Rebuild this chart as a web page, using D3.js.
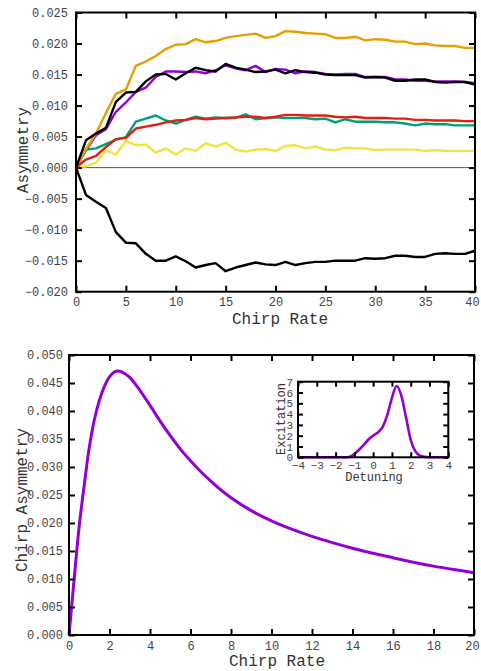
<!DOCTYPE html>
<html>
<head>
<meta charset="utf-8">
<script src="https://cdn.jsdelivr.net/npm/d3@7"></script>
<style>
	body { margin: 0; background: #fff; }
	svg { display: block; }
	text { font-family: "Liberation Mono", "DejaVu Sans Mono", monospace; }
</style>
</head>
<body>
<svg id="chart" width="481" height="671"></svg>
<script>
// top panel: asymmetry vs chirp rate, one point per integer rate
const chirpRates = [0, 1, 2, 3, 4, 5, 6, 7, 8, 9, 10, 11, 12, 13, 14, 15, 16, 17, 18, 19, 20,
	21, 22, 23, 24, 25, 26, 27, 28, 29, 30, 31, 32, 33, 34, 35, 36, 37, 38, 39, 40];

const purpleSeries = [0, 0.0028, 0.0052, 0.0062, 0.0090, 0.0105, 0.0122, 0.0129, 0.0146, 0.0155, 0.0155,
	0.0154, 0.0155, 0.0152, 0.0157, 0.0165, 0.0160, 0.0157, 0.0164, 0.0154, 0.0159,
	0.0158, 0.0152, 0.0155, 0.0154, 0.0151, 0.0150, 0.0151, 0.0151, 0.0146, 0.0146,
	0.0146, 0.0142, 0.0142, 0.0140, 0.0140, 0.0139, 0.0139, 0.0139, 0.0138, 0.0136];
const greenSeries = [0, 0.0029, 0.0031, 0.0038, 0.0045, 0.0049, 0.0074, 0.0079, 0.0084, 0.0076, 0.0071,
	0.0077, 0.0082, 0.0079, 0.0081, 0.0080, 0.0080, 0.0086, 0.0078, 0.0080, 0.0081,
	0.0080, 0.0080, 0.0080, 0.0078, 0.0079, 0.0073, 0.0078, 0.0074, 0.0074, 0.0074,
	0.0073, 0.0073, 0.0071, 0.0068, 0.0071, 0.0070, 0.0070, 0.0068, 0.0068, 0.0068];
const orangeSeries = [0, 0.0030, 0.0055, 0.0088, 0.0119, 0.0126, 0.0164, 0.0171, 0.0180, 0.0191, 0.0198,
	0.0199, 0.0207, 0.0202, 0.0204, 0.0209, 0.0212, 0.0214, 0.0216, 0.0209, 0.0212,
	0.0220, 0.0219, 0.0217, 0.0216, 0.0215, 0.0209, 0.0209, 0.0211, 0.0205, 0.0207,
	0.0206, 0.0203, 0.0203, 0.0199, 0.0200, 0.0197, 0.0196, 0.0196, 0.0193, 0.0193];
const yellowSeries = [0, 0.0002, 0.0008, 0.0028, 0.0021, 0.0043, 0.0036, 0.0037, 0.0024, 0.0031, 0.0021,
	0.0031, 0.0027, 0.0039, 0.0034, 0.0040, 0.0029, 0.0026, 0.0029, 0.0030, 0.0027,
	0.0035, 0.0036, 0.0031, 0.0034, 0.0029, 0.0028, 0.0032, 0.0031, 0.0031, 0.0028,
	0.0029, 0.0029, 0.0029, 0.0029, 0.0027, 0.0028, 0.0027, 0.0027, 0.0027, 0.0027];
const redSeries = [0, 0.0013, 0.0019, 0.0033, 0.0046, 0.0048, 0.0063, 0.0066, 0.0069, 0.0073, 0.0076,
	0.0077, 0.0080, 0.0078, 0.0079, 0.0080, 0.0081, 0.0082, 0.0082, 0.0080, 0.0082,
	0.0085, 0.0085, 0.0084, 0.0084, 0.0084, 0.0082, 0.0081, 0.0082, 0.0080, 0.0080,
	0.0080, 0.0079, 0.0079, 0.0077, 0.0077, 0.0076, 0.0076, 0.0076, 0.0075, 0.0075];
const blackUpSeries = [0, 0.0044, 0.0055, 0.0064, 0.0106, 0.0121, 0.0122, 0.0139, 0.0150, 0.0151, 0.0142,
	0.0152, 0.0161, 0.0157, 0.0155, 0.0167, 0.0161, 0.0158, 0.0154, 0.0155, 0.0158,
	0.0152, 0.0157, 0.0154, 0.0153, 0.0150, 0.0149, 0.0149, 0.0149, 0.0145, 0.0146,
	0.0145, 0.0140, 0.0140, 0.0142, 0.0142, 0.0138, 0.0137, 0.0138, 0.0138, 0.0134];
const blackDownSeries = [0, -0.0044, -0.0055, -0.0065, -0.0104, -0.0121, -0.0122, -0.0139, -0.0150, -0.0150, -0.0143,
	-0.0151, -0.0161, -0.0157, -0.0154, -0.0167, -0.0161, -0.0157, -0.0153, -0.0156, -0.0157,
	-0.0152, -0.0157, -0.0154, -0.0152, -0.0152, -0.0150, -0.0150, -0.0150, -0.0146, -0.0147,
	-0.0146, -0.0142, -0.0142, -0.0144, -0.0144, -0.0139, -0.0138, -0.0139, -0.0139, -0.0134];

const topXTicks = [0, 5, 10, 15, 20, 25, 30, 35, 40];
const topYTicks = [-0.02, -0.015, -0.01, -0.005, 0, 0.005, 0.01, 0.015, 0.02, 0.025];

// bottom panel: chirp asymmetry curve
const curveRates = [0, 0.25, 0.5, 0.75, 1, 1.25, 1.5, 1.75, 2, 2.25, 2.5, 2.75, 3, 3.5, 4, 4.5, 5,
	5.5, 6, 6.5, 7, 7.5, 8, 9, 10, 11, 12, 13, 14, 15, 16, 17, 18, 19, 20];
const curveAsymmetry = [0, 0.0098, 0.0193, 0.0267, 0.0335, 0.0384, 0.0419, 0.0444, 0.0461, 0.0470,
	0.0471, 0.0467, 0.0460, 0.0437, 0.0410, 0.0382, 0.0356, 0.0332, 0.0311, 0.0292, 0.0275,
	0.0259, 0.0245, 0.0222, 0.0204, 0.0189, 0.0176, 0.0165, 0.0155, 0.0146, 0.0138, 0.0130,
	0.0123, 0.0117, 0.0111];
const bottomXTicks = [0, 2, 4, 6, 8, 10, 12, 14, 16, 18, 20];
const bottomYTicks = [0, 0.005, 0.01, 0.015, 0.02, 0.025, 0.03, 0.035, 0.04, 0.045, 0.05];

// inset: excitation vs detuning
const detuning = [-4, -3.5, -3, -2.5, -2, -1.5, -1.25, -1, -0.75, -0.5, -0.25, 0, 0.25, 0.5, 0.75,
	1, 1.25, 1.5, 1.75, 2, 2.25, 2.5, 2.75, 3, 3.5, 4];
const excitation = [0, 0, 0, 0, 0, 0, 0.05, 0.3, 0.7, 1.15, 1.65, 2.0, 2.3, 2.8, 3.9,
	5.5, 6.6, 5.7, 3.7, 1.6, 0.55, 0.15, 0.04, 0.01, 0, 0];
const insetXTicks = [-4, -3, -2, -1, 0, 1, 2, 3, 4];
const insetYTicks = [0, 1, 2, 3, 4, 5, 6, 7];

const tickColor = "#444";
const titleColor = "#333";

let svg = d3.select("#chart");


function drawFrame(x, y, tickX, tickY, opts) {
	let g = svg.append("g");
	let [x0, x1] = x.range();
	let [y0, y1] = y.range();

	g.append("g")
		.attr("transform", `translate(0,${y0})`)
		.call(d3.axisBottom(x).tickValues(tickX).tickSize(-opts.tick).tickPadding(opts.padX)
			.tickFormat(opts.fmtX));
	g.append("g")
		.attr("transform", `translate(${x0},0)`)
		.call(d3.axisLeft(y).tickValues(tickY).tickSize(-opts.tick).tickPadding(opts.padY)
			.tickFormat(opts.fmtY));
	g.append("g")
		.attr("transform", `translate(0,${y1})`)
		.call(d3.axisTop(x).tickValues(tickX).tickSize(-opts.tick).tickFormat(""));
	g.append("g")
		.attr("transform", `translate(${x1},0)`)
		.call(d3.axisRight(y).tickValues(tickY).tickSize(-opts.tick).tickFormat(""));

	g.selectAll(".domain").remove();
	g.selectAll(".tick line").attr("stroke", "#000").attr("stroke-width", opts.width);
	g.selectAll(".tick text")
		.attr("fill", tickColor)
		.attr("font-family", "Liberation Mono")
		.attr("font-size", opts.font);

	g.append("rect")
		.attr("x", x0).attr("y", y1)
		.attr("width", x1 - x0).attr("height", y0 - y1)
		.attr("fill", "none")
		.attr("stroke", "#000")
		.attr("stroke-width", opts.width);
	return g;
}


function title(text, x, y, size, rotate) {
	svg.append("text")
		.attr("transform", `translate(${x},${y})` + (rotate ? " rotate(-90)" : ""))
		.attr("text-anchor", "middle")
		.attr("dy", "0.35em")
		.attr("font-size", size)
		.attr("fill", titleColor)
		.text(text);
}


// ---- top panel ----
let topX = d3.scaleLinear().domain([0, 40]).range([76, 475]);
let topY = d3.scaleLinear().domain([-0.02, 0.025]).range([291.7, 12.5]);

svg.append("line")
	.attr("x1", topX(0)).attr("x2", topX(40))
	.attr("y1", topY(0)).attr("y2", topY(0))
	.attr("stroke", "#555")
	.attr("stroke-width", 1);

let topLine = d3.line()
	.x((d, i) => topX(chirpRates[i]))
	.y(d => topY(d));

let topSeries = [
	[purpleSeries, "#9400d3"],
	[greenSeries, "#009e73"],
	[orangeSeries, "#e69f00"],
	[yellowSeries, "#f0e442"],
	[redSeries, "#e51e10"],
	[blackUpSeries, "#000000"],
	[blackDownSeries, "#000000"],
];
topSeries.forEach(([values, color]) => {
	svg.append("path")
		.attr("d", topLine(values))
		.attr("fill", "none")
		.attr("stroke", color)
		.attr("stroke-width", 2.4)
		.attr("stroke-linejoin", "round");
});

let topFrame = drawFrame(topX, topY, topXTicks, topYTicks, {
	tick: 6, width: 2, font: 12, padX: 6, padY: 8,
	fmtX: d3.format("d"), fmtY: d3.format(".3f"),
});
// keep the last label inside the page
topFrame.selectAll(".tick text").filter(d => d === 40).attr("dx", -3);
title("Chirp Rate", 280, 318, 16, false);
title("Asymmetry", 22, 150, 16, true);


// ---- bottom panel ----
let botX = d3.scaleLinear().domain([0, 20]).range([69, 474]);
let botY = d3.scaleLinear().domain([0, 0.05]).range([635, 355]);

svg.append("path")
	.attr("d", d3.line()
		.x((d, i) => botX(curveRates[i]))
		.y(d => botY(d))
		.curve(d3.curveCatmullRom.alpha(0.5))(curveAsymmetry))
	.attr("fill", "none")
	.attr("stroke", "#9400d3")
	.attr("stroke-width", 3);

let botFrame = drawFrame(botX, botY, bottomXTicks, bottomYTicks, {
	tick: 6, width: 2, font: 12, padX: 6, padY: 6,
	fmtX: d3.format("d"), fmtY: d3.format(".3f"),
});
botFrame.selectAll(".tick text").filter(d => d === 20).attr("dx", -2);
title("Chirp Rate", 277, 660, 16, false);
title("Chirp Asymmetry", 21, 500, 16, true);


// ---- inset ----
let inX = d3.scaleLinear().domain([-4, 4]).range([298, 448.3]);
let inY = d3.scaleLinear().domain([0, 7]).range([457.3, 381.7]);

svg.append("rect")
	.attr("x", 298).attr("y", 381.7)
	.attr("width", 150.3).attr("height", 75.6)
	.attr("fill", "#fff");

svg.append("path")
	.attr("d", d3.line()
		.x((d, i) => inX(detuning[i]))
		.y(d => inY(d))
		.curve(d3.curveMonotoneX)(excitation))
	.attr("fill", "none")
	.attr("stroke", "#9400d3")
	.attr("stroke-width", 2.6);

drawFrame(inX, inY, insetXTicks, insetYTicks, {
	tick: 5, width: 2, font: 11, padX: 4, padY: 5,
	fmtX: d3.format("d"), fmtY: d3.format("d"),
});
title("Detuning", 374, 477, 12, false);
title("Excitation", 281, 419, 12, true);
</script>
</body>
</html>
